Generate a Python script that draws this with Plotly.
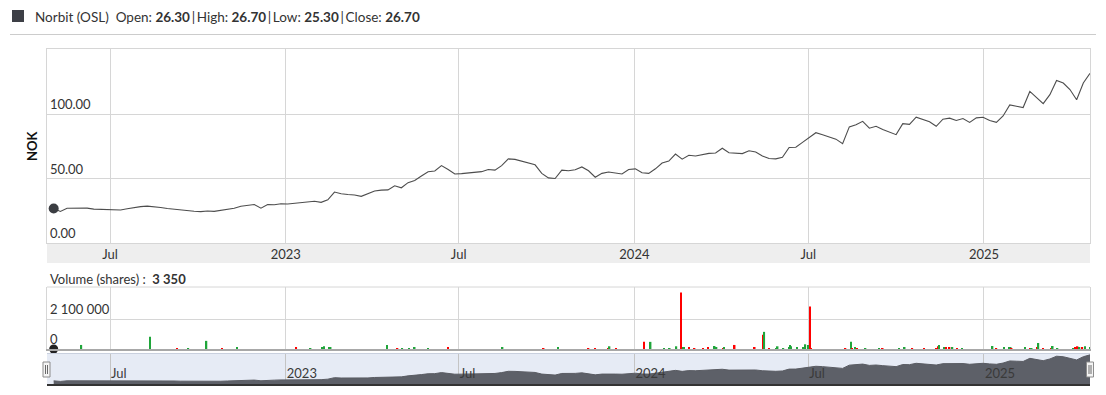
import pandas as pd
import plotly.graph_objects as go

# The page body has an 8px margin; the figure is sized so it fills the 1106x395 window.
OFF = 8
W, H = 1106 - OFF, 395 - OFF

# ---------------- data ----------------
start_date = "2022-05-03"
close = [
    26.7, 24.5, 26.9, 27.0, 26.9, 27.0, 26.3, 26.0, 26.2, 25.8,
    25.6, 26.5, 27.5, 28.2, 28.6, 27.8, 27.5, 26.8, 26.2, 25.4,
    25.0, 24.6, 24.3, 24.8, 24.5, 25.2, 26.2, 27.0, 28.5, 29.4,
    29.8, 27.0, 29.8, 29.6, 30.4, 30.2, 30.8, 31.5, 32.0, 32.4,
    31.5, 33.5, 39.5, 38.2, 37.6, 37.2, 36.2, 38.5, 40.3, 41.0,
    41.2, 44.4, 42.8, 46.8, 48.5, 52.0, 55.3, 55.8, 60.0, 57.0,
    53.5, 53.8, 54.2, 54.5, 55.3, 57.0, 56.5, 60.0, 65.2, 64.8,
    63.5, 62.2, 60.6, 54.0, 50.5, 50.0, 56.5, 56.0, 56.8, 59.0,
    56.0, 51.0, 54.0, 55.0, 54.0, 53.5, 57.0, 57.5, 54.5, 54.0,
    57.5, 62.0, 63.5, 69.0, 65.0, 68.0, 67.5, 68.5, 69.5, 69.8,
    73.5, 70.0, 69.5, 69.3, 71.5, 70.5, 67.5, 65.5, 65.2, 66.5,
    74.0, 74.2, 78.0, 81.5, 85.5, 84.0, 82.0, 80.5, 77.0, 90.0,
    91.7, 94.3, 89.0, 90.5, 88.0, 86.0, 84.0, 92.5, 92.0, 97.5,
    96.0, 94.0, 90.5, 96.0, 96.8, 95.0, 96.5, 93.5, 97.0, 97.5,
    95.0, 93.5, 98.5, 107.0, 106.0, 105.0, 117.5, 112.5, 108.0, 115.0,
    126.0, 124.0, 119.0, 111.0, 124.0, 131.5,
]
dates = pd.date_range(start_date, periods=len(close), freq="7D")

vol_dates = [
    "2022-05-03", "2022-06-01", "2022-08-12", "2022-09-09", "2022-09-21", "2022-10-10",
    "2022-10-26", "2022-11-11", "2023-01-12", "2023-01-27", "2023-02-08",
    "2023-02-10", "2023-02-16", "2023-02-17", "2023-04-17", "2023-04-28",
    "2023-05-03", "2023-05-10", "2023-05-16", "2023-05-30", "2023-06-20",
    "2023-08-16", "2023-09-28", "2023-10-13", "2023-11-14", "2023-11-21",
    "2023-12-05", "2023-12-06", "2023-12-13", "2024-01-11", "2024-01-18",
    "2024-02-01", "2024-02-07", "2024-02-14", "2024-02-19", "2024-02-21",
    "2024-02-22", "2024-02-27", "2024-03-04", "2024-03-13", "2024-03-18",
    "2024-03-25", "2024-03-27", "2024-04-03", "2024-04-04", "2024-04-15",
    "2024-05-06", "2024-05-15", "2024-05-16", "2024-05-21", "2024-05-29",
    "2024-05-30", "2024-06-05", "2024-06-11", "2024-06-12", "2024-06-13",
    "2024-06-19", "2024-06-26", "2024-06-28", "2024-07-01", "2024-07-02",
    "2024-07-03", "2024-07-04", "2024-08-09", "2024-08-15", "2024-08-16",
    "2024-08-19", "2024-08-21", "2024-08-30", "2024-09-13", "2024-09-17",
    "2024-10-04", "2024-10-10", "2024-10-18", "2024-10-30", "2024-11-12",
    "2024-11-14", "2024-11-15", "2024-11-20", "2024-11-22", "2024-11-26",
    "2024-11-29", "2024-12-04", "2024-12-09", "2025-01-10", "2025-01-14",
    "2025-01-22", "2025-01-27", "2025-01-29", "2025-01-30", "2025-02-13",
    "2025-02-18", "2025-02-20", "2025-02-26", "2025-02-27", "2025-03-04",
    "2025-03-12", "2025-03-14", "2025-03-19", "2025-04-04", "2025-04-07",
    "2025-04-09", "2025-04-11", "2025-04-14", "2025-04-17", "2025-04-22",
]
vol_values = [
    3350, 283000, 850000, 70000, 70000, 570000,
    70000, 140000, 95000, 70000, 120000,
    190000, 140000, 140000, 283000, 70000,
    70000, 70000, 140000, 70000, 140000,
    120000, 50000, 140000, 70000, 70000,
    70000, 190000, 70000, 500000, 500000,
    70000, 70000, 190000, 3950000, 120000,
    120000, 120000, 70000, 70000, 140000,
    210000, 120000, 70000, 140000, 283000,
    140000, 990000, 1200000, 70000, 70000,
    190000, 50000, 120000, 283000, 190000,
    140000, 120000, 330000, 283000, 236000,
    2970000, 70000, 70000, 500000, 70000,
    140000, 70000, 70000, 70000, 70000,
    70000, 140000, 70000, 70000, 70000,
    190000, 283000, 140000, 140000, 140000,
    140000, 70000, 70000, 210000, 70000,
    140000, 140000, 120000, 70000, 140000,
    70000, 70000, 140000, 420000, 70000,
    70000, 210000, 70000, 70000, 140000,
    190000, 120000, 120000, 190000, 140000,
]
vol_up = [
    True, True, True, False, True, True,
    False, True, False, True, True,
    True, True, True, True, False,
    True, True, True, True, False,
    True, False, True, False, False,
    False, True, False, False, True,
    True, True, True, False, True,
    True, False, False, False, False,
    True, True, False, True, False,
    False, False, True, False, True,
    True, True, True, True, True,
    True, True, True, True, True,
    False, False, False, True, False,
    True, False, True, True, False,
    True, True, False, False, False,
    False, True, True, False, False,
    True, False, True, True, False,
    True, True, True, False, True,
    False, True, False, True, False,
    False, True, True, True, False,
    False, True, False, True, True,
]

tick_dates = ["2022-07-01", "2023-01-01", "2023-07-01", "2024-01-01", "2024-07-01", "2025-01-01"]
tick_labels = ["Jul", "2023", "Jul", "2024", "Jul", "2025"]
price_ticks = [0, 50, 100]
volume_ticks = [0, 2100000]

x_range = ["2022-04-26", "2025-04-22"]

# ---------------- helpers (window pixel -> paper fraction) ----------------
def px(x):
    return (x - OFF) / W

def py(y):
    return 1 - (y - OFF) / H

GRID = "#d6d6d6"
FONT = "Lato, 'Open Sans', sans-serif"
TXT = "#333333"
GREEN = "#1fa53a"
RED = "#ff0000"

fig = go.Figure()

fig.add_trace(go.Scatter(
    x=dates, y=close, mode="lines", line=dict(color="#4d4d4d", width=1.1),
    xaxis="x", yaxis="y", hoverinfo="skip", showlegend=False))
fig.add_trace(go.Scatter(
    x=[dates[0]], y=[close[0]], mode="markers",
    marker=dict(size=10, color="#3b3d42"), xaxis="x", yaxis="y",
    cliponaxis=False, showlegend=False))

fig.add_trace(go.Bar(
    x=pd.to_datetime(vol_dates), y=vol_values,
    marker=dict(color=[GREEN if u else RED for u in vol_up], line=dict(width=0)),
    width=86400000 * 1.6, xaxis="x2", yaxis="y2", showlegend=False))
fig.add_trace(go.Scatter(
    x=[dates[0]], y=[0], mode="markers", marker=dict(size=9, color="#222"),
    xaxis="x2", yaxis="y2", cliponaxis=False, showlegend=False))

fig.add_trace(go.Scatter(
    x=dates, y=close, mode="lines", fill="tozeroy",
    line=dict(color="#5a5c63", width=1), fillcolor="#5d6068",
    xaxis="x3", yaxis="y3", showlegend=False))

xdom = [px(47), px(1090)]


def xaxis_base(**kw):
    d = dict(range=x_range, tickvals=tick_dates, ticktext=tick_labels,
             showgrid=True, gridcolor=GRID, gridwidth=1, zeroline=False, ticks="",
             tickfont=dict(family=FONT, size=13, color=TXT), domain=xdom)
    d.update(kw)
    return d


fig.update_layout(
    width=W, height=H, margin=dict(l=0, r=0, t=0, b=0),
    paper_bgcolor="white", plot_bgcolor="white",
    separators=". ",
    font=dict(family=FONT, size=13, color=TXT),
    xaxis=xaxis_base(anchor="y", showline=True, mirror=True, linecolor=GRID,
                     ticklabelstandoff=-1),
    yaxis=dict(domain=[py(243), py(49)], range=[0, 150.4], tickvals=price_ticks,
               tickformat=".2f", ticklabelposition="inside top", showgrid=True,
               gridcolor=GRID, zeroline=False, showline=True, mirror=True,
               linecolor=GRID, ticks="", ticklabelstandoff=2,
               tickfont=dict(family=FONT, size=13, color=TXT)),
    xaxis2=xaxis_base(anchor="y2", showticklabels=False,
                      showline=True, linecolor="#a8a8a8", linewidth=2),
    yaxis2=dict(domain=[py(349), py(287)], range=[0, 4340000], tickvals=volume_ticks,
                tickformat=",d", ticklabelposition="inside top", showgrid=True,
                gridcolor=GRID, zeroline=False, showline=True, mirror=True,
                linecolor=GRID, ticks="", ticklabelstandoff=2,
                tickfont=dict(family=FONT, size=13, color=TXT)),
    xaxis3=xaxis_base(anchor="y3", ticklabelposition="inside right",
                      showline=True, linecolor="#333333", linewidth=2, gridcolor="#c4c4c4",
                      tickfont=dict(family=FONT, size=13, color="#3a3a3a")),
    yaxis3=dict(domain=[py(384), py(354)], range=[14, 135], showgrid=False,
                showticklabels=False, zeroline=False, ticks=""),
    hovermode=False,
)

shapes = [
    # header icon
    dict(type="rect", xref="paper", yref="paper", x0=px(12), x1=px(24), y0=py(22), y1=py(10),
         fillcolor="#3d3f46", line=dict(width=0)),
    # header separator
    dict(type="line", xref="paper", yref="paper", x0=px(10), x1=px(1096), y0=py(34.5), y1=py(34.5),
         line=dict(color="#cccccc", width=1)),
    # x label band
    dict(type="rect", xref="paper", yref="paper", x0=px(47), x1=px(1090), y0=py(263), y1=py(243),
         fillcolor="#eeeeee", line=dict(width=0), layer="below"),
    # volume top border
    dict(type="line", xref="paper", yref="paper", x0=px(47), x1=px(1090), y0=py(287), y1=py(287),
         line=dict(color=GRID, width=1)),
    # navigator background
    dict(type="rect", xref="paper", yref="paper", x0=px(47), x1=px(1090), y0=py(384), y1=py(354),
         fillcolor="#e6ebf5", line=dict(width=0), layer="below"),
    dict(type="line", xref="paper", yref="paper", x0=px(47), x1=px(1090), y0=py(353.5), y1=py(353.5),
         line=dict(color="#c9d0de", width=1)),
]
for cx in (46.5, 1090):
    shapes.append(dict(type="rect", xref="paper", yref="paper", x0=px(cx - 3.5), x1=px(cx + 3.5),
                       y0=py(377), y1=py(362), fillcolor="#f4f4f4",
                       line=dict(color="#8c8c8c", width=1)))
    for dx in (-1, 1):
        shapes.append(dict(type="line", xref="paper", yref="paper", x0=px(cx + dx), x1=px(cx + dx),
                           y0=py(374), y1=py(365), line=dict(color="#6a6a6a", width=1)))
fig.update_layout(shapes=shapes)

SEP = "\u2009|\u2009"
fig.add_annotation(
    xref="paper", yref="paper", x=px(33), y=py(17), xanchor="left", yanchor="middle",
    showarrow=False, font=dict(family=FONT, size=13.5, color="#333"),
    text=("Norbit (OSL)  Open: <b>26.30</b>" + SEP + "High: <b>26.70</b>" + SEP +
          "Low: <b>25.30</b>" + SEP + "Close: <b>26.70</b>"))
fig.add_annotation(
    xref="paper", yref="paper", x=px(32), y=py(146), xanchor="center", yanchor="middle",
    showarrow=False, textangle=-90, font=dict(family=FONT, size=13, color="#111"),
    text="<b>NOK</b>")
fig.add_annotation(
    xref="paper", yref="paper", x=px(48), y=py(279), xanchor="left", yanchor="middle",
    showarrow=False, font=dict(family=FONT, size=13, color="#333"),
    text="Volume (shares) :  <b>3 350</b>")

fig.write_html("out.html")
